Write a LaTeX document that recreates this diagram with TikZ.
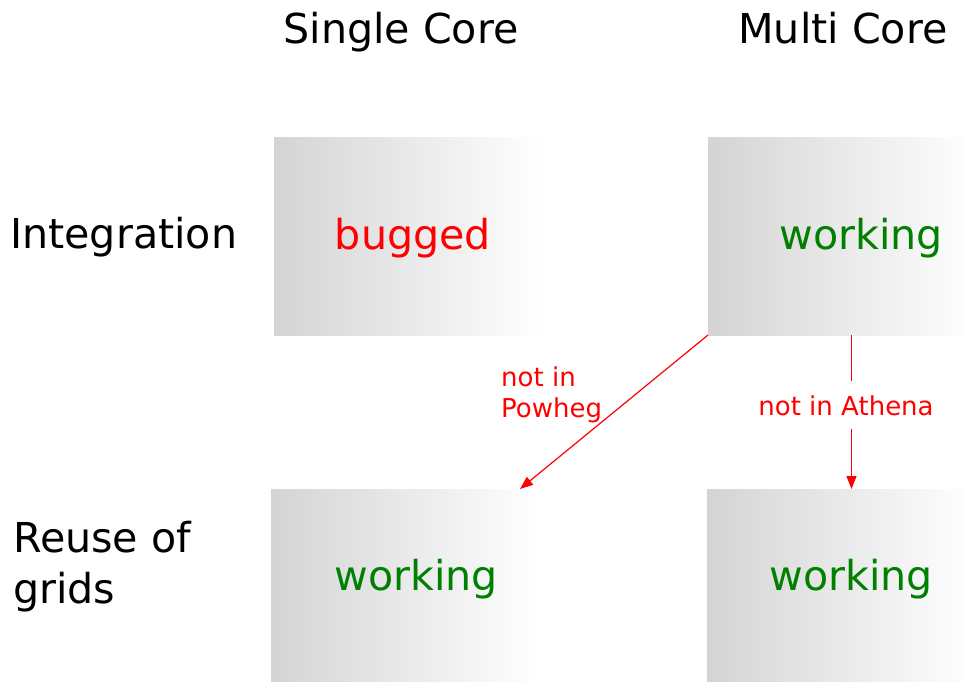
\documentclass[tikz,border=0pt]{standalone}
\usepackage{fontspec}
\setmainfont{DejaVu Sans}
\usetikzlibrary{arrows.meta,calc}
\definecolor{boxgray}{RGB}{212,212,212}
\definecolor{okgreen}{RGB}{0,128,0}
\definecolor{badred}{RGB}{255,0,0}
\tikzset{
  cell/.style={draw=none, inner sep=0pt, outer sep=0pt, minimum width=270pt, minimum height=198pt,
    left color=boxgray, right color=white, shading angle=90},
  head/.style={font=\fontsize{41.2}{49}\selectfont, anchor=base, inner sep=0pt},
  status/.style={font=\fontsize{41.2}{49}\selectfont, anchor=base, inner sep=0pt},
  note/.style={font=\fontsize{26}{31}\selectfont, text=badred, inner sep=0pt},
  link/.style={draw=badred, line width=1.2pt, -{Triangle[length=13pt,width=10pt]}},
}
\begin{document}
\begin{tikzpicture}[x=1pt,y=-1pt]
\useasboundingbox (0,0) rectangle (963,682);
\begin{scope}
\clip (0,0) rectangle (963,682);
% grid cells
\node[cell, anchor=north west] (b1) at (274,137) {};
\node[cell, anchor=north west] (b2) at (708,137) {};
\node[cell, anchor=north west] (b3) at (271,489) {};
\node[cell, anchor=north west] (b4) at (707,489) {};
\end{scope}

% column and row headings
\node[head] (hsingle) at (401,44) {Single Core};
\node[head] (hmulti) at (843,44) {Multi Core};
\node[head, anchor=base west] (hint) at (10,248) {Integration};
\node[head, anchor=base west] (hreuse) at (13,552) {Reuse of};
\node[head, anchor=base west] (hgrids) at (13,603) {grids};

% cell contents
\node[status, text=badred] (s1) at (413,249) {bugged};
\node[status, text=okgreen] (s2) at (861,249) {working};
\node[status, text=okgreen] (s3) at (416,590) {working};
\node[status, text=okgreen] (s4) at (851,590) {working};

% transitions
\coordinate (d3) at ([xshift=249pt]b3.north west);
\draw[link] (b2.south west) -- (d3);
\node[note, anchor=base west] (n1) at (501,386) {not in};
\node[note, anchor=base west] (n2) at (501,417) {Powheg};

\coordinate (v2) at ([xshift=143.5pt]b2.south west);
\coordinate (v4) at ([xshift=144.5pt]b4.north west);
\draw[link] (v2) -- (v4);
\node[note, fill=white, inner xsep=2pt, inner ysep=14pt, anchor=base] (n3) at (846,415) {not in Athena};
\end{tikzpicture}
\end{document}
